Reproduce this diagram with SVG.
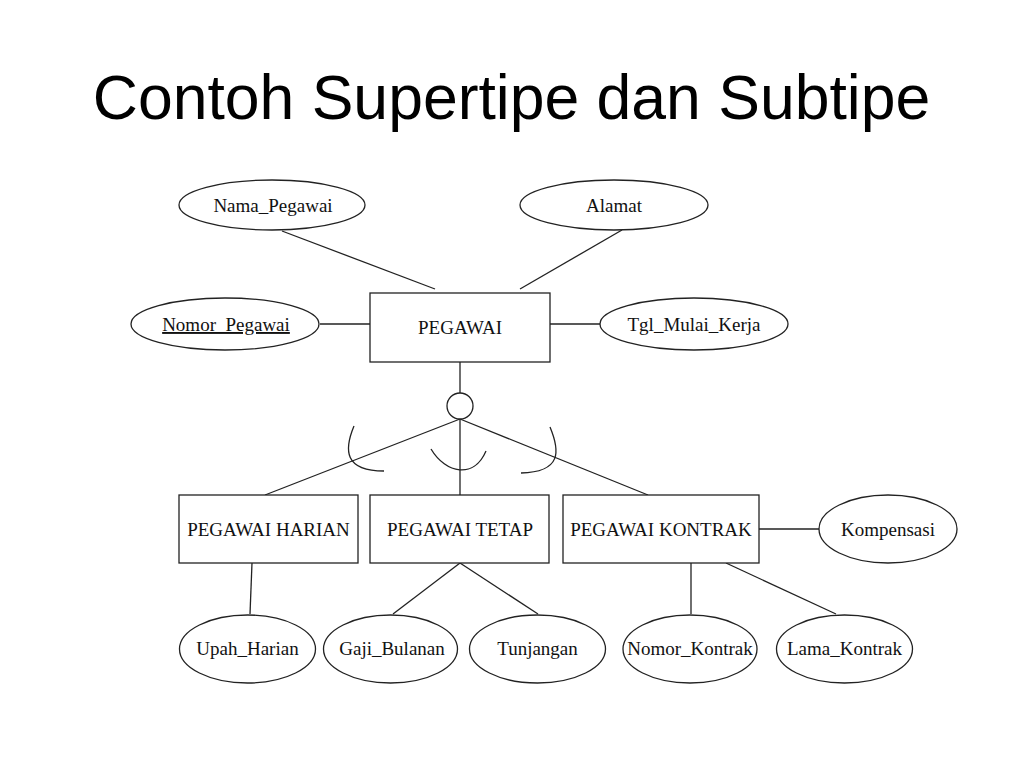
<svg xmlns="http://www.w3.org/2000/svg" width="1024" height="768" viewBox="0 0 1024 768">
<style>
.sh{fill:#fff;stroke:#222;stroke-width:1.3}
.ln{fill:none;stroke:#222;stroke-width:1.3}
.t{font-family:"Liberation Serif","Times New Roman",serif;font-size:19px;fill:#111;text-anchor:middle}
.title{font-family:"Liberation Sans",Arial,sans-serif;font-size:62.5px;fill:#000;text-anchor:middle}
</style>
<rect width="1024" height="768" fill="#fff"/>
<text class="title" x="511.5" y="119">Contoh Supertipe dan Subtipe</text>
<g id="connectors">
<line class="ln" x1="282" y1="231" x2="435" y2="289"/>
<line class="ln" x1="622" y1="230" x2="520" y2="289"/>
<line class="ln" x1="320" y1="324" x2="370" y2="324"/>
<line class="ln" x1="550" y1="324" x2="600" y2="324"/>
<line class="ln" x1="460" y1="362" x2="460" y2="393"/>
<line class="ln" x1="460" y1="419" x2="265" y2="495"/>
<line class="ln" x1="460" y1="419" x2="460" y2="495"/>
<line class="ln" x1="460" y1="419" x2="648" y2="495"/>
<path class="ln" d="M354,426 C344,450 344,471 384,471"/>
<path class="ln" d="M431,449 C446,474 474,479 486,451"/>
<path class="ln" d="M550,427 C560,451 562,472 521,473"/>
<line class="ln" x1="759" y1="529" x2="819" y2="529"/>
<line class="ln" x1="252" y1="563" x2="250" y2="614"/>
<line class="ln" x1="460" y1="563" x2="393" y2="614"/>
<line class="ln" x1="460" y1="563" x2="538" y2="614"/>
<line class="ln" x1="691" y1="563" x2="691" y2="614"/>
<line class="ln" x1="726" y1="563" x2="836" y2="614"/>
</g>
<g id="circle"><circle class="sh" cx="460" cy="406" r="13"/></g>
<g id="pegawai"><rect class="sh" x="370" y="293" width="180" height="69"/><text class="t" x="460" y="334">PEGAWAI</text></g>
<g id="nama"><ellipse class="sh" cx="272" cy="205" rx="93" ry="25"/><text class="t" x="273" y="212">Nama_Pegawai</text></g>
<g id="alamat"><ellipse class="sh" cx="614" cy="205" rx="94" ry="25"/><text class="t" x="614" y="212">Alamat</text></g>
<g id="nomor"><ellipse class="sh" cx="225" cy="324" rx="94" ry="26"/><text class="t" x="226" y="331" text-decoration="underline">Nomor_Pegawai</text></g>
<g id="tgl"><ellipse class="sh" cx="694" cy="324" rx="94" ry="26"/><text class="t" x="694" y="331">Tgl_Mulai_Kerja</text></g>
<g id="harian"><rect class="sh" x="179" y="495" width="179" height="68"/><text class="t" x="268.5" y="536">PEGAWAI HARIAN</text></g>
<g id="tetap"><rect class="sh" x="370" y="495" width="179" height="68"/><text class="t" x="460" y="536">PEGAWAI TETAP</text></g>
<g id="kontrak"><rect class="sh" x="563" y="495" width="196" height="68"/><text class="t" x="661" y="536">PEGAWAI KONTRAK</text></g>
<g id="kompensasi"><ellipse class="sh" cx="888" cy="529" rx="69" ry="34"/><text class="t" x="888" y="536">Kompensasi</text></g>
<g id="upah"><ellipse class="sh" cx="247.5" cy="649" rx="68" ry="34"/><text class="t" x="247.5" y="655">Upah_Harian</text></g>
<g id="gaji"><ellipse class="sh" cx="390.5" cy="649" rx="67" ry="34"/><text class="t" x="392" y="655">Gaji_Bulanan</text></g>
<g id="tunjangan"><ellipse class="sh" cx="537.5" cy="649" rx="68" ry="34"/><text class="t" x="537.5" y="655">Tunjangan</text></g>
<g id="nomorkontrak"><ellipse class="sh" cx="690" cy="649" rx="67" ry="34"/><text class="t" x="690" y="655">Nomor_Kontrak</text></g>
<g id="lama"><ellipse class="sh" cx="844.5" cy="649" rx="68" ry="34"/><text class="t" x="844.5" y="655">Lama_Kontrak</text></g>
</svg>
